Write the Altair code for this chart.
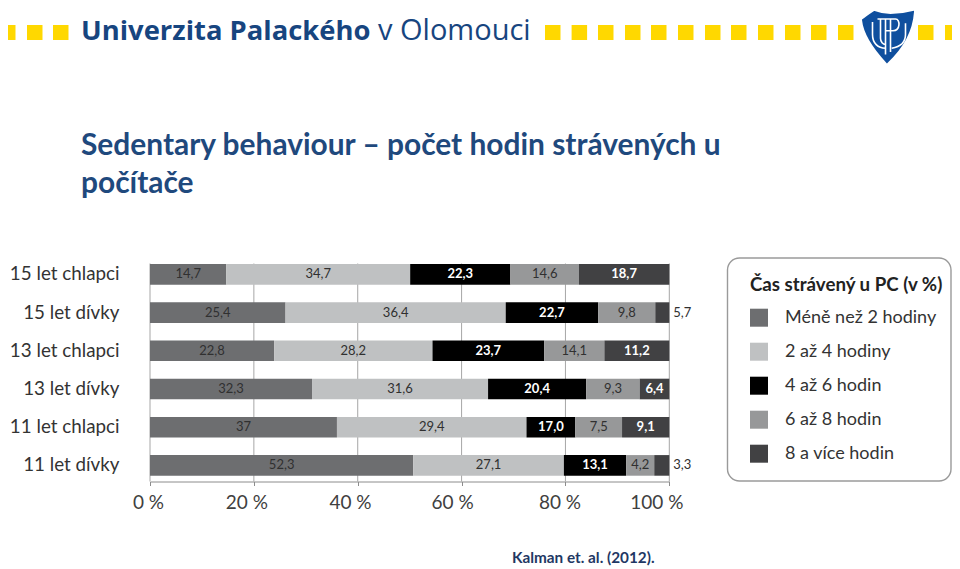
import altair as alt
import pandas as pd

groups = ["15 let chlapci", "15 let dívky", "13 let chlapci", "13 let dívky", "11 let chlapci", "11 let dívky"]
series = ["Méně než 2 hodiny", "2 až 4 hodiny", "4 až 6 hodin", "6 až 8 hodin", "8 a více hodin"]
colors = ["#6d6e70", "#bfc1c2", "#000000", "#979899", "#414143"]
light_series = ["4 až 6 hodin", "8 a více hodin"]
# Segment widths as drawn in the picture (they differ slightly from the printed labels)
values = [
    [14.7, 35.4, 19.3, 13.2, 17.4],
    [26.1, 42.4, 17.8, 11.0, 2.7],
    [23.9, 30.5, 21.5, 11.6, 12.5],
    [31.2, 33.9, 18.9, 10.3, 5.7],
    [36.0, 36.5, 9.4, 9.0, 9.1],
    [50.7, 29.0, 12.0, 5.4, 2.9],
]
labels = [
    ["14,7", "34,7", "22,3", "14,6", "18,7"],
    ["25,4", "36,4", "22,7", "9,8", "5,7"],
    ["22,8", "28,2", "23,7", "14,1", "11,2"],
    ["32,3", "31,6", "20,4", "9,3", "6,4"],
    ["37", "29,4", "17,0", "7,5", "9,1"],
    ["52,3", "27,1", "13,1", "4,2", "3,3"],
]
outside_values = ["5,7", "3,3"]
grid_ticks = [0, 0.2, 0.4, 0.6, 0.8, 1]

FONT = "Lato"
DX, DY = 8, 8  # page margin

rows = []
for g, vs, ls in zip(groups, values, labels):
    for i, (s, v, l) in enumerate(zip(series, vs, ls)):
        rows.append({"group": g, "series": s, "value": v, "label": l, "order": i,
                     "tone": "light" if s in light_series else "dark",
                     "outside": l in outside_values and i == 4})
df = pd.DataFrame(rows)

x_scale = alt.Scale(domain=[0, 1], range=[150 - DX, 669.3 - DX], nice=False, zero=False)
y_scale = alt.Scale(domain=groups, range=[255.3 - DY, 484.5 - DY], paddingInner=0.46, paddingOuter=0.23)
one = alt.Data(values=[{}])


def px_rect(x0, x1, y0, y1, color):
    return alt.Chart(one).mark_rect(color=color).encode(
        x=alt.value(x0 - DX), x2=alt.value(x1 - DX), y=alt.value(y0 - DY), y2=alt.value(y1 - DY))


def px_text(txt, x, y, size, color, weight="normal", align="left", font=FONT):
    return alt.Chart(one).mark_text(text=txt, align=align, baseline="alphabetic", fontSize=size,
                                    color=color, fontWeight=weight, font=font).encode(
        x=alt.value(x - DX), y=alt.value(y - DY))


def shield(path, **kw):
    return alt.Chart(one).mark_point(shape=path, size=2500, **kw).encode(
        x=alt.value(888 - DX), y=alt.value(37 - DY))


# header decoration
layers = []
square_starts = [0, 27, 53, 545, 571.6, 598, 625, 651, 678, 705, 731, 758, 785, 811, 838, 918, 945]
for s in square_starts:
    layers.append(px_rect(s, s + 15.5, 25, 40, "#ffd800"))
layers.append(px_text("Univerzita Palackého", 81, 40, 27.4, "#17457f", "bold", font="Open Sans"))
layers.append(px_text("v Olomouci", 378, 40, 29, "#17457f", font="Open Sans"))
layers.append(shield("M-1,-0.68 C-0.85,-0.8 -0.7,-0.9 -0.55,-1 C-0.35,-0.92 -0.15,-0.88 0.1,-0.88 C0.4,-0.88 0.75,-0.93 1,-1 "
                     "C0.95,-0.3 0.6,0.4 -0.04,1 C-0.6,0.4 -0.95,-0.2 -1,-0.68 Z",
                     filled=True, fill="#0f4f9e", stroke="#0f4f9e", opacity=1))
layers.append(shield("M-0.62,-0.6 L-0.62,-0.1 C-0.62,0.25 -0.4,0.45 -0.1,0.45 "
                     "M-0.3,-0.72 L-0.3,0.05 C-0.3,0.2 -0.2,0.3 -0.1,0.3 "
                     "M-0.42,-0.72 L0.3,-0.72 C0.5,-0.72 0.5,-0.25 0.2,-0.25 L-0.1,-0.25 "
                     "M-0.1,-0.72 L-0.1,0.7 M0.1,-0.72 L0.1,0.6 "
                     "M0.7,-0.55 L0.7,-0.1 C0.7,0.25 0.45,0.4 0.15,0.45",
                     filled=False, stroke="#ffffff", strokeWidth=1.6, opacity=1))

# slide titles
layers.append(px_text("Sedentary behaviour – počet hodin strávených u", 81, 155, 29.9, "#1f497d", "bold"))
layers.append(px_text("počítače", 81, 193, 29.9, "#1f497d", "bold"))
layers.append(px_text("Kalman et. al. (2012).", 512, 563, 15.3, "#1f3864", "bold"))

# legend frame
layers.append(alt.Chart(one).mark_rect(fill="transparent", stroke="#9a9a9a", strokeWidth=1.4, cornerRadius=12).encode(
    x=alt.value(727.5 - DX), x2=alt.value(951 - DX), y=alt.value(258 - DY), y2=alt.value(481 - DY)))

x_axis = alt.Axis(values=grid_ticks, labelExpr="round(datum.value*100)+' %'", title=None, grid=False,
                  offset=481.5 - DY - 561, domainColor="#8c8c8c", tickColor="#8c8c8c", tickSize=4,
                  labelFontSize=19, labelColor="#404040", labelFont=FONT, labelPadding=8,
                  labelFlush=False, labelOverlap=False,
                  labelOffset=alt.expr("[-2,-7.5,-7.7,-9.5,-6,-13][indexof([0,0.2,0.4,0.6,0.8,1],datum.value)]"))
y_axis = alt.Axis(title=None, domain=False, ticks=False, offset=-(119 - DX), labelPadding=0,
                  labelFontSize=18.8, labelColor="#333333", labelFont=FONT, labelLimit=200)

# grid behind bars
grid = alt.Chart(pd.DataFrame({"t": grid_ticks})).mark_rule(color="#a6a6a6", strokeWidth=1).encode(
    x=alt.X("t:Q", scale=x_scale, axis=x_axis),
    y=alt.value(263.5 - DY), y2=alt.value(481.5 - DY))
layers.append(grid)

# stacked bars
bars = alt.Chart(df).mark_bar(cornerRadius=0).encode(
    x=alt.X("value:Q", stack="normalize", scale=x_scale, axis=x_axis),
    y=alt.Y("group:N", scale=y_scale, sort=groups, axis=y_axis),
    color=alt.Color("series:N", sort=series, scale=alt.Scale(domain=series, range=colors),
                    legend=alt.Legend(
                        orient="none", legendX=750 - DX, legendY=276 - DY, title="Čas strávený u PC (v %)",
                        titleFont=FONT, titleFontSize=18.7, titleColor="#222222", titleFontWeight="bold",
                        titlePadding=14, titleLimit=260,
                        labelFont=FONT, labelFontSize=18, labelColor="#333333", labelOffset=17, labelLimit=220,
                        symbolType="square", symbolSize=324, symbolStrokeWidth=0, rowPadding=16,
                        padding=0, symbolOpacity=1)),
    order=alt.Order("order:Q"))
layers.append(bars)


def stacked_text():
    return (alt.Chart(df)
            .transform_joinaggregate(total="sum(value)", groupby=["group"])
            .transform_calculate(share="datum.value / datum.total")
            .transform_stack(stack="share", groupby=["group"], sort=[alt.SortField("order")], as_=["s0", "s1"])
            .transform_calculate(mid="(datum.s0 + datum.s1) / 2"))


y_enc = alt.Y("group:N", scale=y_scale, sort=groups, axis=y_axis)
x_enc = alt.X("mid:Q", scale=x_scale, axis=x_axis)
dark = stacked_text().transform_filter("datum.tone == 'dark' && !datum.outside").mark_text(
    fontSize=13, color="#303030", font=FONT).encode(x=x_enc, y=y_enc, text="label:N")
light = stacked_text().transform_filter("datum.tone == 'light' && !datum.outside").mark_text(
    fontSize=13, color="#ffffff", fontWeight="bold", font=FONT).encode(x=x_enc, y=y_enc, text="label:N")
outside = alt.Chart(df).transform_filter("datum.outside").mark_text(
    fontSize=13, color="#303030", font=FONT, align="left", dx=4).encode(
    x=alt.datum(1, scale=x_scale, axis=x_axis), y=y_enc, text="label:N")
layers += [dark, light, outside]

chart = alt.layer(*layers).properties(
    width=944, height=561, padding=0, autosize=alt.AutoSizeParams(type="none"),
    background="#ffffff"
).configure_view(stroke=None)

chart.save("out.html", embed_options={"renderer": "svg", "actions": False})
